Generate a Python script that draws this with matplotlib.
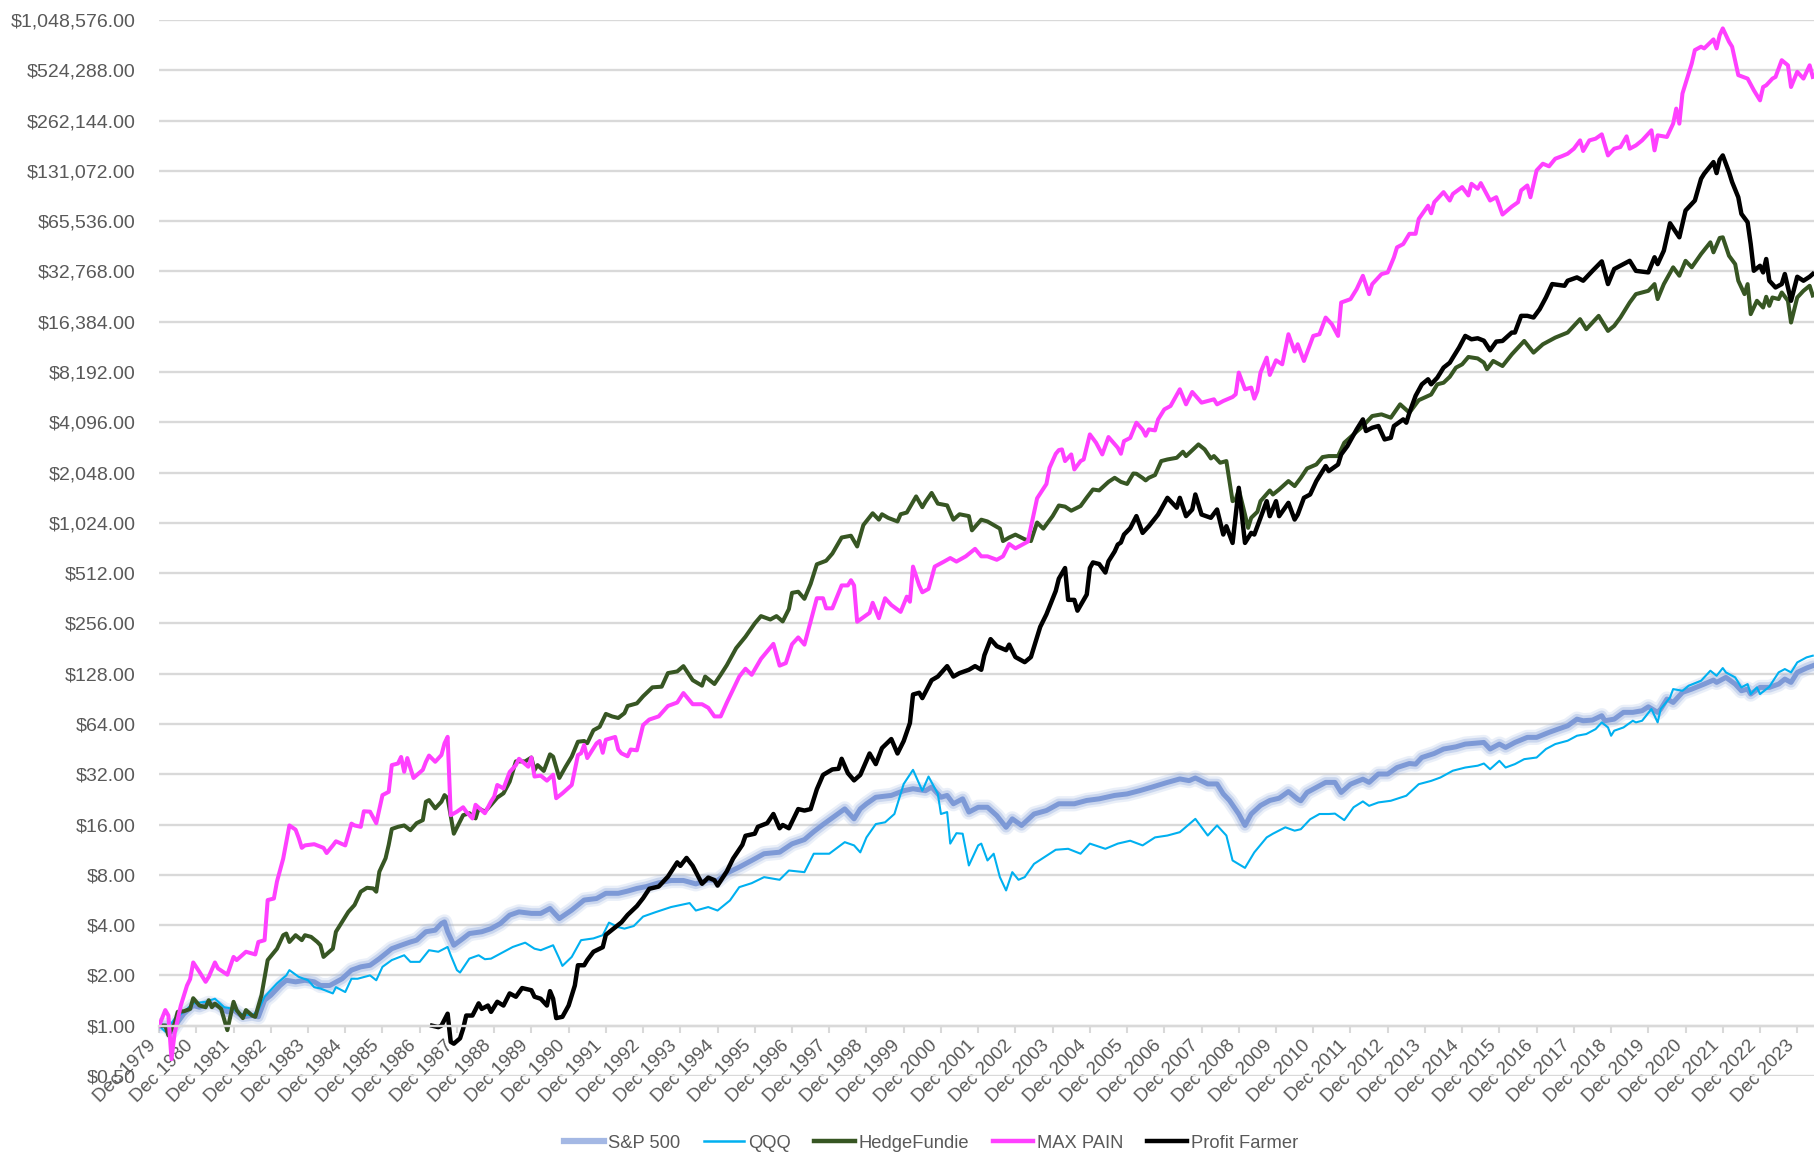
import matplotlib
matplotlib.use("Agg")
import matplotlib.pyplot as plt
from matplotlib.ticker import FuncFormatter, NullLocator
from matplotlib.lines import Line2D

# month index counted from Dec 1979, growth of $1
sp500 = [(0, 1.0), (3, 1.0), (4, 0.92), (6, 1.05), (8, 1.18), (11, 1.32), (13, 1.29), (16, 1.36), (19, 1.32),
         (22, 1.21), (24, 1.24), (27, 1.13), (30, 1.15), (32, 1.13), (34, 1.42), (36, 1.52), (39, 1.74), (41, 1.87),
         (44, 1.83), (47, 1.87), (50, 1.83), (52, 1.74), (55, 1.74), (59, 1.91), (62, 2.15), (65, 2.25), (68, 2.3),
         (71, 2.52), (75, 2.89), (78, 3.03), (81, 3.17), (83, 3.25), (86, 3.65), (89, 3.73), (91, 4.09), (92, 4.18),
         (93, 3.65), (95, 3.03), (98, 3.33), (100, 3.56), (104, 3.65), (107, 3.81), (110, 4.09), (113, 4.59),
         (116, 4.8), (120, 4.7), (123, 4.7), (126, 5.03), (127, 4.8), (129, 4.38), (133, 4.92), (137, 5.65),
         (141, 5.77), (144, 6.2), (148, 6.2), (151, 6.39), (154, 6.63), (157, 6.8), (161, 7.16), (165, 7.4),
         (169, 7.4), (173, 7.06), (177, 7.46), (180, 7.4), (183, 8.19), (187, 8.9), (191, 9.75), (195, 10.7),
         (200, 10.93), (204, 12.26), (208, 13.0), (211, 14.5), (214, 16.0), (218, 18.1), (221, 19.85), (224, 17.3),
         (226, 19.85), (228, 21.3), (231, 23.3), (236, 23.9), (240, 25.5), (243, 26.2), (247, 25.5), (249, 26.8),
         (252, 23.3), (254, 23.9), (256, 21.3), (259, 22.8), (261, 19.0), (264, 20.3), (267, 20.3), (270, 18.1),
         (273, 15.4), (275, 17.3), (278, 15.8), (282, 18.5), (286, 19.4), (290, 21.3), (295, 21.3), (299, 22.3),
         (303, 22.8), (308, 23.9), (312, 24.4), (316, 25.5), (320, 26.8), (325, 28.6), (329, 30.0), (332, 29.3),
         (334, 30.4), (338, 28.0), (341, 28.0), (343, 24.4), (345, 22.3), (348, 18.5), (350, 15.8), (352, 18.5),
         (355, 20.8), (358, 22.3), (361, 23.0), (364, 25.2), (367, 22.7), (368, 22.2), (370, 24.9), (373, 26.7),
         (376, 28.6), (379, 28.6), (381, 24.9), (384, 27.9), (388, 29.9), (390, 28.6), (393, 32.1), (396, 32.1),
         (399, 35.1), (403, 37.1), (405, 36.8), (407, 40.3), (411, 42.6), (414, 45.3), (418, 46.7), (421, 48.5),
         (425, 49.2), (427, 49.6), (429, 45.3), (432, 48.5), (434, 46.3), (437, 49.6), (441, 53.2), (444, 53.2),
         (448, 57.0), (451, 59.7), (454, 62.4), (457, 68.4), (459, 66.9), (462, 67.5), (465, 71.7), (466, 66.9),
         (469, 68.4), (472, 75.1), (475, 75.1), (478, 76.8), (480, 81.1), (483, 75.1), (484, 78.6), (486, 90.2),
         (488, 86.1), (491, 98.9), (494, 103.5), (498, 110.9), (501, 117.2), (502, 113.5), (505, 121.6),
         (508, 110.9), (510, 101.1), (512, 103.5), (513, 96.6), (516, 105.9), (519, 105.9), (522, 110.9),
         (524, 118.8), (526, 113.5), (528, 130.3), (531, 138.3), (533, 142.8)]

qqq = [(0, 1.0), (2, 0.92), (5, 1.1), (8, 1.21), (11, 1.36), (15, 1.39), (18, 1.45), (21, 1.29), (24, 1.26),
       (26, 1.18), (30, 1.15), (32, 1.24), (34, 1.49), (38, 1.79), (41, 2.0), (42, 2.15), (45, 1.96), (48, 1.87),
       (50, 1.7), (52, 1.67), (56, 1.56), (57, 1.7), (60, 1.59), (62, 1.91), (64, 1.91), (68, 2.0), (70, 1.87),
       (72, 2.25), (75, 2.47), (79, 2.64), (81, 2.41), (84, 2.41), (87, 2.83), (90, 2.77), (93, 2.96), (94, 2.64),
       (96, 2.15), (97, 2.08), (100, 2.52), (103, 2.64), (105, 2.5), (107, 2.52), (110, 2.7), (114, 2.96),
       (118, 3.14), (121, 2.89), (123, 2.83), (127, 3.03), (129, 2.52), (130, 2.28), (133, 2.58), (136, 3.25),
       (140, 3.33), (143, 3.48), (145, 4.14), (148, 3.89), (150, 3.81), (153, 3.95), (156, 4.5), (160, 4.78),
       (165, 5.13), (171, 5.42), (173, 4.89), (177, 5.13), (180, 4.89), (184, 5.62), (187, 6.75), (191, 7.13),
       (195, 7.75), (200, 7.47), (203, 8.49), (208, 8.3), (211, 10.7), (216, 10.7), (221, 12.55), (224, 12.0),
       (226, 10.9), (228, 13.4), (231, 16.1), (234, 16.5), (237, 18.5), (240, 28.0), (243, 34.0), (245, 28.0),
       (246, 25.5), (248, 31.0), (251, 24.4), (252, 18.5), (254, 19.0), (255, 12.3), (257, 14.2), (259, 14.1),
       (261, 9.1), (264, 12.0), (265, 12.3), (267, 9.75), (269, 10.7), (271, 7.75), (273, 6.45), (275, 8.3),
       (277, 7.47), (279, 7.75), (282, 9.3), (286, 10.4), (289, 11.3), (293, 11.45), (297, 10.7), (300, 12.3),
       (305, 11.45), (309, 12.3), (313, 12.8), (317, 12.0), (321, 13.4), (325, 13.75), (329, 14.4), (334, 17.3),
       (338, 13.75), (341, 15.8), (344, 13.75), (346, 9.75), (350, 8.8), (353, 10.9), (357, 13.4), (359, 14.1),
       (363, 15.4), (366, 14.7), (368, 15.0), (371, 17.2), (374, 18.5), (377, 18.5), (379, 18.6), (382, 17.0),
       (385, 20.3), (388, 22.0), (390, 20.7), (393, 21.7), (397, 22.2), (402, 23.8), (406, 27.9), (410, 29.2),
       (413, 30.6), (417, 33.6), (421, 35.1), (425, 36.0), (427, 37.1), (429, 34.3), (432, 38.5), (434, 35.1),
       (437, 36.8), (440, 39.4), (444, 40.3), (447, 45.3), (450, 48.5), (454, 50.8), (457, 54.4), (460, 55.7),
       (463, 59.6), (465, 65.4), (467, 61.0), (468, 54.4), (469, 58.3), (472, 61.0), (475, 66.9), (476, 65.4),
       (478, 66.9), (481, 78.6), (483, 65.4), (484, 78.6), (487, 92.3), (488, 103.5), (491, 101.1), (493, 108.4),
       (497, 116.1), (500, 133.3), (502, 124.4), (504, 138.3), (505, 130.3), (508, 121.6), (510, 105.9),
       (512, 110.9), (513, 96.6), (515, 105.9), (516, 96.6), (519, 106.9), (522, 130.3), (524, 136.4),
       (526, 130.3), (528, 149.5), (531, 160.2), (533, 164.0)]

hedgefundie = [(0, 1.0), (2, 1.0), (3, 0.875), (5, 1.03), (6, 1.21), (8, 1.22), (10, 1.26), (11, 1.46), (13, 1.32),
               (15, 1.29), (16, 1.42), (17, 1.29), (18, 1.355), (20, 1.26), (22, 0.94), (24, 1.39), (25, 1.24),
               (27, 1.11), (28, 1.24), (30, 1.15), (31, 1.13), (33, 1.52), (35, 2.47), (38, 2.89), (40, 3.48),
               (41, 3.56), (42, 3.17), (44, 3.48), (46, 3.25), (47, 3.48), (49, 3.4), (51, 3.17), (52, 3.03),
               (53, 2.58), (56, 2.89), (57, 3.65), (59, 4.18), (61, 4.8), (62, 5.03), (63, 5.28), (65, 6.34),
               (67, 6.69), (69, 6.63), (70, 6.34), (71, 8.36), (73, 10.05), (74, 12.07), (75, 15.05), (77, 15.5),
               (79, 15.8), (81, 14.8), (83, 16.3), (85, 17.0), (86, 21.9), (87, 22.4), (89, 20.0), (91, 21.9),
               (92, 24.0), (93, 23.0), (95, 14.1), (98, 18.2), (100, 18.7), (102, 17.4), (103, 20.0), (105, 19.1),
               (107, 21.0), (109, 23.2), (111, 24.6), (113, 28.9), (115, 38.2), (118, 38.2), (120, 40.3),
               (121, 33.9), (122, 36.3), (124, 33.5), (126, 42.1), (127, 40.8), (129, 30.4), (131, 35.4),
               (133, 40.8), (135, 50.1), (137, 50.6), (138, 49.1), (140, 58.7), (142, 61.5), (144, 73.5),
               (146, 71.0), (148, 69.5), (150, 74.3), (151, 82.0), (154, 85.0), (156, 93.7), (159, 106), (162, 107),
               (164, 129), (167, 132), (169, 142), (172, 117), (175, 108.5), (176, 123), (179, 111), (181, 126),
               (183, 144), (186, 182), (189, 213), (192, 256), (194, 283), (197, 270), (199, 283), (201, 263),
               (203, 312), (204, 390), (206, 396), (208, 359), (210, 441), (212, 578), (215, 607), (217, 670),
               (220, 836), (223, 857), (225, 739), (227, 993), (230, 1168), (232, 1069), (233, 1152), (235, 1096),
               (238, 1043), (239, 1152), (241, 1180), (244, 1473), (246, 1270), (247, 1367), (249, 1546),
               (251, 1334), (254, 1302), (256, 1069), (258, 1152), (261, 1123), (262, 923), (265, 1069),
               (267, 1043), (271, 945), (272, 796), (274, 836), (276, 870), (279, 816), (281, 796), (283, 1028),
               (285, 945), (288, 1123), (290, 1300), (292, 1280), (294, 1210), (297, 1290), (299, 1450),
               (301, 1621), (303, 1600), (306, 1800), (308, 1904), (310, 1800), (312, 1749), (314, 2020),
               (315, 2013), (317, 1900), (318, 1837), (319, 1904), (321, 1978), (323, 2398), (325, 2452),
               (328, 2509), (330, 2727), (331, 2569), (335, 3017), (337, 2818), (339, 2487), (340, 2569),
               (342, 2343), (344, 2398), (346, 1380), (347, 1411), (348, 1621), (350, 1148), (351, 955),
               (352, 1097), (354, 1192), (355, 1380), (358, 1599), (359, 1513), (361, 1621), (364, 1820),
               (366, 1699), (368, 1904), (370, 2165), (373, 2288), (375, 2533), (377, 2569), (380, 2569),
               (382, 3087), (385, 3463), (388, 3886), (391, 4461), (394, 4565), (397, 4360), (400, 5242),
               (403, 4672), (406, 5550), (410, 6000), (412, 6908), (414, 7060), (416, 7660), (418, 8695),
               (420, 9100), (422, 10070), (425, 9870), (427, 9310), (428, 8500), (430, 9530), (433, 8890),
               (436, 10440), (440, 12560), (443, 10690), (446, 11990), (450, 13150), (454, 14100), (458, 16960),
               (460, 14760), (464, 17750), (467, 14420), (469, 15460), (471, 17350), (474, 21330), (476, 23950),
               (480, 25060), (482, 27500), (483, 22370), (485, 27500), (488, 34650), (490, 30870), (492, 37900),
               (494, 34650), (497, 41630), (500, 48900), (501, 42600), (503, 51940), (504, 52400), (506, 40650),
               (508, 36200), (509, 28800), (511, 23950), (512, 27500), (513, 18170), (515, 21850), (517, 19920),
               (518, 23090), (519, 20380), (520, 22860), (522, 22370), (523, 24500), (525, 21850), (526, 16190),
               (528, 22860), (530, 25060), (532, 26870), (533, 23500)]

max_pain = [(0, 1.0), (2, 1.24), (3, 1.15), (4, 0.63), (5, 0.9), (7, 1.32), (9, 1.74), (10, 1.9), (11, 2.39),
            (13, 2.1), (15, 1.83), (16, 1.96), (18, 2.39), (19, 2.2), (22, 2.02), (24, 2.58), (25, 2.47),
            (28, 2.77), (31, 2.67), (32, 3.17), (34, 3.25), (35, 5.65), (37, 5.77), (38, 7.3), (40, 10.0),
            (42, 15.8), (44, 14.9), (45, 13.3), (46, 11.6), (47, 12.0), (50, 12.2), (53, 11.6), (54, 10.8),
            (56, 12.0), (57, 12.7), (60, 12.0), (62, 16.2), (63, 15.8), (65, 15.5), (66, 19.2), (68, 19.1),
            (70, 16.3), (72, 24.0), (74, 25.1), (75, 36.3), (77, 37.1), (78, 40.6), (79, 33.1), (80, 40.0),
            (82, 30.4), (85, 34.0), (86, 38.0), (87, 41.4), (89, 38.0), (91, 41.7), (92, 49.0), (93, 53.6),
            (94, 18.2), (96, 19.1), (98, 20.3), (99, 19.1), (101, 17.4), (102, 21.0), (105, 18.7), (107, 22.0),
            (108, 23.5), (109, 27.6), (111, 26.3), (113, 33.0), (115, 36.3), (116, 39.6), (119, 35.5),
            (120, 40.3), (121, 31.0), (123, 31.4), (125, 29.3), (127, 31.8), (128, 23.0), (130, 24.6),
            (133, 27.6), (135, 41.7), (136, 42.7), (137, 47.9), (138, 40.0), (141, 49.0), (142, 50.6),
            (143, 43.0), (144, 51.5), (147, 53.5), (148, 45.0), (149, 42.7), (151, 41.0), (152, 45.0),
            (154, 44.5), (156, 63.0), (158, 68.0), (161, 71.0), (164, 82.0), (167, 86.0), (169, 98.0),
            (172, 84.0), (175, 84.0), (177, 80.0), (179, 71.0), (181, 71.0), (183, 86.0), (187, 123),
            (189, 137), (191, 126), (194, 157), (198, 193), (200, 143), (202, 148), (204, 192), (206, 211),
            (208, 191), (212, 362), (214, 362), (215, 315), (217, 315), (220, 432), (222, 432), (223, 464),
            (224, 432), (225, 262), (229, 296), (230, 340), (232, 275), (234, 362), (236, 330), (239, 300),
            (241, 370), (242, 345), (243, 560), (245, 432), (246, 393), (248, 412), (250, 560), (253, 600),
            (255, 630), (257, 600), (260, 645), (263, 715), (265, 645), (267, 645), (270, 615), (272, 645),
            (274, 765), (276, 720), (280, 790), (283, 1436), (286, 1749), (287, 2186), (289, 2650), (290, 2790),
            (291, 2816), (292, 2398), (294, 2628), (295, 2137), (297, 2398), (298, 2452), (300, 3463),
            (302, 3087), (304, 2628), (306, 3339), (309, 2882), (310, 2652), (311, 3158), (313, 3300),
            (315, 4070), (317, 3700), (318, 3400), (319, 3712), (321, 3660), (322, 4260), (324, 4890),
            (326, 5122), (329, 6449), (331, 5242), (333, 6216), (336, 5364), (340, 5618), (341, 5242),
            (343, 5489), (346, 5800), (347, 6020), (348, 8120), (350, 6449), (352, 6600), (353, 5670),
            (354, 6300), (355, 8120), (357, 9980), (358, 7860), (360, 9620), (362, 9100), (364, 13780),
            (366, 10850), (367, 12000), (369, 9530), (372, 13460), (374, 13780), (376, 17340), (378, 15820),
            (380, 13460), (381, 21330), (384, 22340), (386, 25660), (388, 30830), (390, 23940), (391, 27470),
            (394, 31560), (396, 32300), (398, 39730), (399, 45620), (401, 47750), (403, 55000), (405, 55000),
            (406, 67500), (409, 81000), (410, 73000), (411, 85000), (414, 97700), (416, 87000), (417, 95300),
            (420, 104700), (422, 93300), (423, 109600), (425, 102300), (426, 110600), (429, 87000),
            (431, 91100), (433, 71700), (436, 80000), (438, 85000), (439, 100000), (441, 107100), (442, 91000),
            (444, 131800), (446, 144500), (448, 139400), (450, 154800), (452, 159900), (454, 165800),
            (456, 177700), (458, 199300), (459, 172200), (461, 199300), (463, 204000), (465, 216700),
            (467, 162000), (469, 177700), (471, 181800), (473, 210700), (474, 177700), (476, 186000),
            (478, 199300), (481, 229000), (482, 173700), (483, 213700), (486, 208900), (488, 251000),
            (489, 309000), (490, 251000), (491, 380000), (494, 576000), (495, 692000), (497, 725000),
            (498, 708000), (501, 802000), (502, 708000), (503, 851000), (504, 933000), (506, 777000),
            (507, 725000), (509, 490000), (512, 467000), (514, 398000), (515, 371000), (516, 346000),
            (517, 416000), (518, 426000), (520, 467000), (521, 478000), (523, 602000), (525, 561000),
            (526, 416000), (528, 513000), (530, 467000), (532, 561000), (533, 478000)]

profit_farmer = [(88, 1.0), (90, 0.98), (91, 1.0), (93, 1.18), (94, 0.8), (95, 0.78), (97, 0.84), (98, 0.96),
                 (99, 1.15), (101, 1.15), (103, 1.36), (104, 1.26), (106, 1.32), (107, 1.21), (109, 1.39),
                 (111, 1.32), (113, 1.56), (115, 1.49), (117, 1.68), (120, 1.63), (121, 1.49), (123, 1.45),
                 (125, 1.32), (126, 1.61), (127, 1.45), (128, 1.11), (130, 1.13), (132, 1.32), (134, 1.74),
                 (135, 2.3), (137, 2.3), (138, 2.47), (140, 2.77), (143, 2.95), (144, 3.5), (146, 3.75),
                 (149, 4.15), (151, 4.6), (154, 5.2), (156, 5.8), (158, 6.6), (161, 6.8), (164, 7.8), (167, 9.5),
                 (168, 9.05), (170, 10.1), (172, 9.05), (175, 7.07), (177, 7.7), (179, 7.43), (180, 6.9),
                 (183, 8.4), (185, 10.0), (188, 12.1), (189, 13.7), (192, 14.1), (193, 15.5), (196, 16.3),
                 (198, 18.5), (200, 15.2), (201, 15.9), (203, 15.2), (206, 19.8), (208, 19.4), (210, 19.8),
                 (212, 26.0), (214, 31.7), (217, 34.2), (219, 34.5), (220, 39.6), (222, 32.5), (224, 29.4),
                 (226, 31.7), (229, 42.6), (231, 36.8), (233, 45.9), (236, 52.0), (238, 42.6), (240, 50.6),
                 (242, 64.8), (243, 96.0), (245, 98.4), (246, 91.4), (249, 117), (251, 123), (254, 142), (256, 123),
                 (258, 129), (261, 135), (263, 142), (265, 135), (266, 165), (268, 206), (270, 187), (273, 177),
                 (274, 191), (276, 161), (279, 150), (281, 161), (284, 244), (286, 290), (289, 400), (290, 474),
                 (292, 549), (293, 354), (295, 354), (296, 305), (299, 381), (300, 549), (301, 593), (303, 580),
                 (305, 516), (306, 602), (308, 690), (309, 759), (310, 780), (311, 871), (313, 950), (315, 1123),
                 (317, 891), (319, 977), (322, 1148), (325, 1445), (328, 1261), (329, 1445), (331, 1122),
                 (333, 1230), (334, 1513), (336, 1148), (339, 1097), (341, 1230), (343, 871), (344, 977),
                 (346, 776), (348, 1659), (350, 776), (352, 891), (353, 871), (355, 1097), (357, 1380),
                 (358, 1122), (360, 1380), (361, 1122), (364, 1348), (366, 1071), (367, 1148), (369, 1445),
                 (371, 1513), (373, 1820), (375, 2088), (376, 2238), (377, 2088), (380, 2288), (381, 2628),
                 (383, 2949), (386, 3712), (388, 4260), (389, 3628), (391, 3795), (393, 3886), (395, 3232),
                 (397, 3304), (398, 3886), (401, 4260), (402, 4070), (403, 4672), (405, 5900), (407, 6900),
                 (409, 7404), (410, 6908), (412, 7574), (414, 8695), (416, 9300), (417, 9981), (419, 11460),
                 (421, 13460), (423, 12850), (425, 13030), (427, 12600), (429, 11040), (431, 12450), (433, 12560),
                 (436, 14100), (437, 14100), (439, 17750), (441, 17750), (443, 17350), (445, 19480), (447, 22860),
                 (449, 27500), (453, 26870), (454, 28800), (457, 30150), (459, 28800), (462, 33000), (465, 37600),
                 (467, 27500), (469, 33850), (474, 37900), (476, 33000), (480, 32300), (482, 39800), (483, 36200),
                 (485, 43600), (487, 63600), (490, 52400), (492, 75800), (495, 87000), (497, 117400),
                 (498, 125900), (501, 147800), (502, 127000), (503, 152700), (504, 162000), (506, 128800),
                 (507, 112300), (509, 91000), (510, 72400), (512, 64500), (513, 47800), (514, 33050), (516, 35400),
                 (517, 32300), (518, 38850), (519, 28800), (521, 26250), (523, 27500), (524, 31600), (526, 21850),
                 (528, 30430), (530, 28800), (532, 30430), (533, 31600)]

years = list(range(1979, 2024))
x_labels = ["Dec %d" % y for y in years]
y_ticks = [2.0 ** k for k in range(-1, 21)]

plt.rcParams['font.family'] = ['Liberation Sans', 'DejaVu Sans']
text_col = '#595959'
grid_col = '#D9D9D9'

fig = plt.figure(figsize=(18.14, 11.52), dpi=100)
ax = fig.add_axes([0.0877, 0.066, 0.9123, 0.9167])

# axis line sits on the $1 level; set it before the tick setup (it resets ticks)
for side in ['top', 'right', 'left']:
    ax.spines[side].set_visible(False)
ax.spines['bottom'].set_position(('data', 1))
ax.spines['bottom'].set_color(grid_col)
ax.spines['bottom'].set_linewidth(1.7)


def xy(series):
    m, v = zip(*series)
    return list(m), list(v)


# S&P 500 with a soft glow
m, v = xy(sp500)
ax.plot(m, v, color='#8FAADC', lw=11, alpha=0.18, solid_joinstyle='round', solid_capstyle='round')
ax.plot(m, v, color='#8FAADC', lw=7.5, alpha=0.35, solid_joinstyle='round', solid_capstyle='round')
ax.plot(m, v, color='#7D99D6', lw=3.6, solid_joinstyle='round')

m, v = xy(qqq)
ax.plot(m, v, color='#00B0F0', lw=1.5)

m, v = xy(hedgefundie)
ax.plot(m, v, color='#375623', lw=2.9, solid_joinstyle='round')

m, v = xy(max_pain)
ax.plot(m, v, color='#FF40FF', lw=2.9, solid_joinstyle='round')

m, v = xy(profit_farmer)
ax.plot(m, v, color='black', lw=3.2, solid_joinstyle='round')

ax.set_yscale('log', base=2)
ax.set_ylim(0.5, 2.0 ** 20)
ax.set_xlim(0, 533.4)
ax.set_yticks(y_ticks)
ax.yaxis.set_minor_locator(NullLocator())
ax.yaxis.set_major_formatter(FuncFormatter(lambda val, pos: "${:,.2f}".format(val)))
ax.tick_params(axis='y', length=0, pad=17, labelsize=14, labelcolor=text_col)

ax.set_xticks([12 * i for i in range(len(years))])
ax.xaxis.set_minor_locator(NullLocator())
ax.tick_params(axis='x', length=5, width=1.5, color=grid_col, pad=3, labelsize=13.5, labelcolor=text_col)
ax.set_xticklabels(x_labels, rotation=45, ha='right', va='top', rotation_mode='default')

ax.yaxis.grid(True, color=grid_col, lw=1.7)
ax.set_axisbelow(True)

handles = [Line2D([], [], color='#A4B8E4', lw=4.5),
           Line2D([], [], color='#00B0F0', lw=1.8),
           Line2D([], [], color='#375623', lw=3.2),
           Line2D([], [], color='#FF40FF', lw=3.2),
           Line2D([], [], color='black', lw=3.2)]
labels = ['S&P 500', 'QQQ', 'HedgeFundie', 'MAX PAIN', 'Profit Farmer']
leg = fig.legend(handles, labels, loc='center', bbox_to_anchor=(931 / 1814, 1 - 1143 / 1152), ncol=5,
                 frameon=False, fontsize=13.2, handlelength=2.2, handletextpad=0.2, columnspacing=1.3)
for t in leg.get_texts():
    t.set_color(text_col)

fig.savefig('out.png', dpi=100)
